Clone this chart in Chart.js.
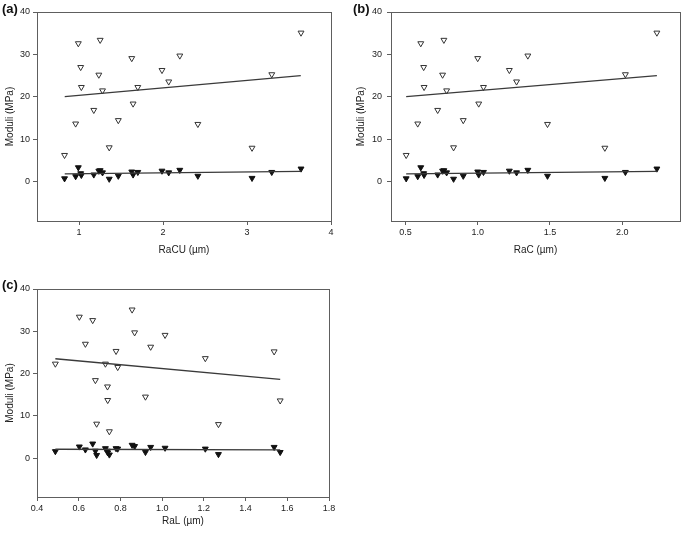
<!DOCTYPE html>
<html>
<head>
<meta charset="utf-8">
<script src="https://cdn.jsdelivr.net/npm/chart.js@4.4.1/dist/chart.umd.min.js"></script>
<style>
  body { margin: 0; background: #fff; }
  #wrap { position: relative; width: 685px; height: 533px; overflow: hidden; }
  canvas { position: absolute; }
  .tag { position: absolute; font: bold 13px "Liberation Sans", Arial, sans-serif; color: #111; line-height: 14px; }
</style>
</head>
<body>
<div id="wrap">
  <canvas id="chartA" width="340" height="265" style="left:0;top:0"></canvas>
  <canvas id="chartB" width="335" height="265" style="left:350px;top:0"></canvas>
  <canvas id="chartC" width="340" height="263" style="left:0;top:270px"></canvas>
  <div class="tag" style="left:2px;top:2px">(a)</div>
  <div class="tag" style="left:353px;top:2px">(b)</div>
  <div class="tag" style="left:2px;top:278px">(c)</div>
</div>
<script>
// Moduli of the same 21 samples (MPa): open = first modulus, filled = second modulus
const moduliOpen   = [6.3, 13.7, 32.6, 27.0, 22.3, 16.9, 25.2, 33.4, 21.5, 8.1, 14.5, 29.1, 18.4, 22.3, 26.3, 23.6, 29.7, 13.6, 8.0, 25.3, 35.1];
const moduliFilled = [0.8, 1.3, 3.4, 2.0, 1.6, 1.7, 2.6, 2.7, 2.2, 0.7, 1.4, 2.4, 1.7, 2.3, 2.6, 2.2, 2.8, 1.4, 0.9, 2.3, 3.1];

// roughness of each sample (µm)
const raCU = [0.828, 0.96, 0.992, 1.02, 1.028, 1.176, 1.236, 1.252, 1.28, 1.36, 1.468, 1.628, 1.644, 1.70, 1.988, 2.068, 2.2, 2.415, 3.06, 3.295, 3.643];
const raC  = [0.505, 0.585, 0.606, 0.626, 0.629, 0.723, 0.757, 0.766, 0.785, 0.833, 0.90, 1.0, 1.007, 1.04, 1.219, 1.269, 1.347, 1.483, 1.88, 2.022, 2.24];
const raL  = [0.747, 0.739, 0.667, 0.632, 0.488, 0.738, 1.537, 0.603, 0.787, 0.686, 0.92, 1.014, 0.680, 0.728, 0.945, 1.207, 0.868, 1.566, 1.27, 0.779, 0.856];

// regression lines (end points)
const fitXA = [0.83, 3.64];
const fitXB = [0.505, 2.24];
const fitXC = [0.488, 1.566];
const fitOpenAB   = [20.1, 25.0];
const fitFilledAB = [1.9, 2.5];
const fitOpenC    = [23.5, 18.6];
const fitFilledC  = [2.1, 1.95];

// axis ticks
const yTicks  = [0, 10, 20, 30, 40];
const xTicksA = [1, 2, 3, 4];
const xTicksB = [0.5, 1.0, 1.5, 2.0];
const xTicksC = [0.4, 0.6, 0.8, 1.0, 1.2, 1.4, 1.6, 1.8];

const FONT = '"Liberation Sans", Arial, sans-serif';
const AXIS_GRAY = '#5e5e5e';

// draws the box round the plot area
const framePlugin = {
  id: 'frame',
  afterDraw(chart) {
    const { ctx, chartArea: a } = chart;
    ctx.save();
    ctx.strokeStyle = AXIS_GRAY;
    ctx.lineWidth = 1;
    ctx.strokeRect(Math.round(a.left) + 0.5, Math.round(a.top) + 0.5,
                   Math.round(a.right - a.left), Math.round(a.bottom - a.top));
    ctx.restore();
  }
};

function pairs(xs, ys) {
  return xs.map((x, i) => ({ x: x, y: ys[i] }));
}

function makePanel(id, cfg) {
  new Chart(document.getElementById(id), {
    type: 'scatter',
    data: {
      datasets: [
        {
          data: pairs(cfg.fitX, cfg.fitOpen), showLine: true, pointRadius: 0,
          borderColor: '#3a3a3a', borderWidth: 1.3
        },
        {
          data: pairs(cfg.fitX, cfg.fitFilled), showLine: true, pointRadius: 0,
          borderColor: '#3a3a3a', borderWidth: 1.3
        },
        {
          data: pairs(cfg.xs, moduliOpen), pointStyle: 'triangle', rotation: 180,
          pointRadius: 3.4, backgroundColor: '#fff', borderColor: '#333', borderWidth: 1
        },
        {
          data: pairs(cfg.xs, moduliFilled), pointStyle: 'triangle', rotation: 180,
          pointRadius: 3.4, backgroundColor: '#111', borderColor: '#111', borderWidth: 1
        }
      ]
    },
    options: {
      responsive: false,
      animation: false,
      events: [],
      layout: { padding: cfg.padding },
      plugins: { legend: { display: false }, tooltip: { enabled: false } },
      scales: {
        x: {
          type: 'linear', min: cfg.xMin, max: cfg.xMax,
          afterFit: s => { s.height = cfg.xHeight; },
          afterBuildTicks: s => { s.ticks = cfg.xTicks.map(v => ({ value: v })); },
          grid: { display: true, drawOnChartArea: false, drawTicks: true, tickLength: 4, color: AXIS_GRAY },
          border: { display: false },
          ticks: {
            padding: 2, color: '#222', font: { family: FONT, size: 9 },
            callback: v => v.toFixed(cfg.decimals)
          },
          title: {
            display: true, text: cfg.xTitle, color: '#222',
            font: { family: FONT, size: 10 }, padding: { top: 0, bottom: cfg.xTitlePad }
          }
        },
        y: {
          type: 'linear', min: -9.2, max: 40,
          afterFit: s => { s.width = cfg.yWidth; },
          afterBuildTicks: s => { s.ticks = yTicks.map(v => ({ value: v })); },
          grid: { display: true, drawOnChartArea: false, drawTicks: true, tickLength: 4, color: AXIS_GRAY },
          border: { display: false },
          ticks: { padding: cfg.yTickPad, color: '#222', font: { family: FONT, size: 9 } },
          title: {
            display: true, text: 'Moduli (MPa)', color: '#222',
            font: { family: FONT, size: 10 }, padding: { top: cfg.yTitlePad, bottom: 0 }
          }
        }
      }
    },
    plugins: [framePlugin]
  });
}

makePanel('chartA', {
  xs: raCU, xMin: 0.5, xMax: 4, xTicks: xTicksA, decimals: 0, xTitle: 'RaCU (µm)',
  fitX: fitXA, fitOpen: fitOpenAB, fitFilled: fitFilledAB,
  padding: { top: 12, right: 9, left: 0, bottom: 0 },
  xHeight: 44, yWidth: 37, xTitlePad: 9, yTitlePad: 4.5, yTickPad: 3
});

makePanel('chartB', {
  xs: raC, xMin: 0.4, xMax: 2.4, xTicks: xTicksB, decimals: 1, xTitle: 'RaC (µm)',
  fitX: fitXB, fitOpen: fitOpenAB, fitFilled: fitFilledAB,
  padding: { top: 12, right: 3, left: 0, bottom: 0 },
  xHeight: 44, yWidth: 41, xTitlePad: 9, yTitlePad: 5.5, yTickPad: 5
});

makePanel('chartC', {
  xs: raL, xMin: 0.4, xMax: 1.8, xTicks: xTicksC, decimals: 1, xTitle: 'RaL (µm)',
  fitX: fitXC, fitOpen: fitOpenC, fitFilled: fitFilledC,
  padding: { top: 19, right: 11, left: 0, bottom: 0 },
  xHeight: 36, yWidth: 37, xTitlePad: 6, yTitlePad: 4, yTickPad: 3
});
</script>
</body>
</html>
